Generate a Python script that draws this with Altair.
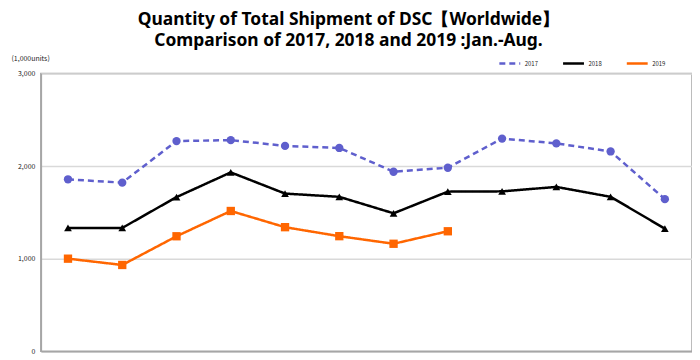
import altair as alt
import pandas as pd

months = ["Jan", "Feb", "Mar", "Apr", "May", "Jun", "Jul", "Aug", "Sep", "Oct", "Nov", "Dec"]
y2017 = [1857, 1821, 2270, 2280, 2218, 2196, 1939, 1982, 2297, 2245, 2158, 1643]
y2018 = [1332, 1332, 1665, 1932, 1703, 1668, 1490, 1724, 1727, 1775, 1668, 1324]
y2019 = [1000, 932, 1242, 1515, 1340, 1243, 1161, 1296]
series = ["2017", "2018", "2019"]
colors = ["#5F5FCD", "#000000", "#FF6600"]
shapes = ["circle", "triangle-up", "square"]
sizes = [70, 60, 70]

rows = []
for name, vals in zip(series, [y2017, y2018, y2019]):
    for m, v in zip(months, vals):
        rows.append({"month": m, "year": name, "value": v})
df = pd.DataFrame(rows)

x = alt.X("month:O", sort=months, scale=alt.Scale(type="point", padding=0.5),
          axis=alt.Axis(labels=False, ticks=False, title=None, domainColor="#A6A6A6",
                        domainWidth=1.5, grid=False))
y = alt.Y("value:Q", scale=alt.Scale(domain=[0, 3000], nice=False),
          axis=alt.Axis(values=[0, 1000, 2000, 3000], format=",d", ticks=False,
                        labelFontSize=7, labelColor="#222222", labelPadding=6,
                        labelFont="Noto Sans CJK JP",
                        domainColor="#A6A6A6", domainWidth=1.5,
                        gridColor="#D9D9D9", gridWidth=1.5,
                        title="(1,000units)", titleAngle=0, titleAlign="left",
                        titleX=-30, titleY=-12, titleFontSize=7, titleFontWeight="normal",
                        titleFont="Noto Sans CJK JP", titleColor="#222222"))

leg = alt.Legend(title=None, orient="none", direction="horizontal",
                 legendX=459, legendY=-22, symbolType="stroke",
                 symbolSize=440, symbolStrokeWidth=2.5,
                 labelFontSize=6, labelFont="Noto Sans CJK JP",
                 labelColor="#222222", labelOffset=3, columnPadding=19)
color = alt.Color("year:N", scale=alt.Scale(domain=series, range=colors), legend=leg)
dash = alt.StrokeDash("year:N", scale=alt.Scale(domain=series, range=[[6, 4], [1, 0], [1, 0]]),
                      legend=leg)

lines = alt.Chart(df).mark_line(strokeWidth=2.5).encode(x=x, y=y, color=color, strokeDash=dash)
point_layers = [
    alt.Chart(df).transform_filter(alt.datum.year == s).mark_point(
        filled=True, opacity=1, shape=sh, color=c, size=sz).encode(x=x, y=y)
    for s, c, sh, sz in zip(series, colors, shapes, sizes)
]

chart = alt.layer(lines, *point_layers).properties(
    width=654, height=279,
    autosize=alt.AutoSizeParams(type="none"),
    padding={"left": 33, "top": 65, "right": 0, "bottom": 8},
    title=alt.TitleParams(
        text=["Quantity of Total Shipment of DSC【Worldwide】",
              "Comparison of 2017, 2018 and 2019 :Jan.-Aug."],
        fontSize=17.5, fontWeight="bold", font="Noto Sans", color="#000000",
        anchor="middle", dx=-18, dy=18, offset=20, lineHeight=21),
).configure_view(stroke="#A6A6A6", strokeWidth=1.5)

chart.save("out.html", embed_options={"renderer": "svg", "actions": False})
